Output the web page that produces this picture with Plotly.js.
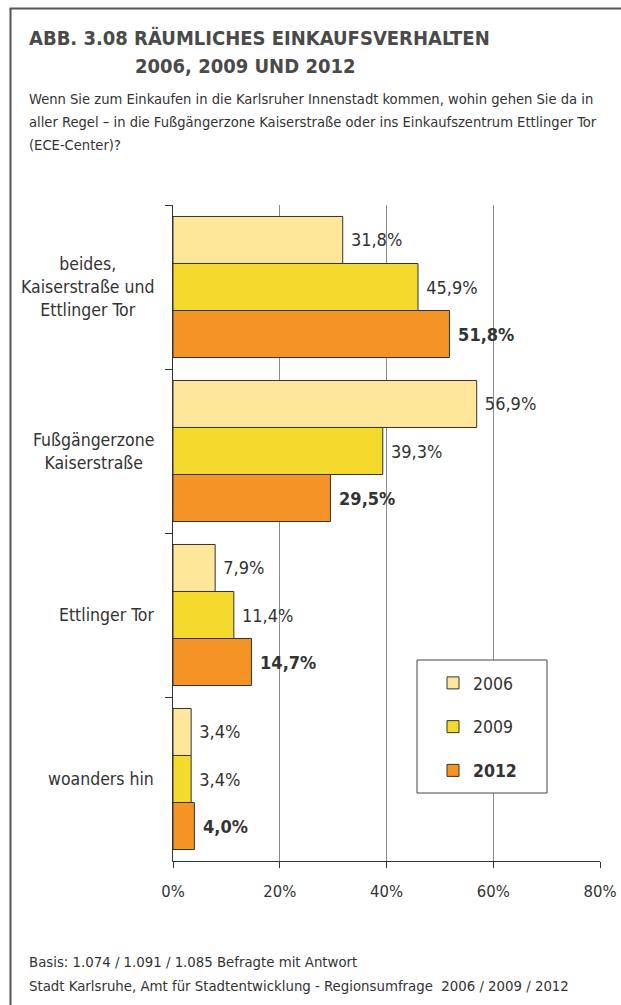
<!DOCTYPE html>
<html>
<head>
<meta charset="utf-8">
<script src="https://cdn.plot.ly/plotly-3.0.1.min.js"></script>
<style>html,body{margin:0;padding:0;background:#fff;}#chart{width:621px;height:1005px;}</style>
</head>
<body>
<div id="chart"></div>
<script>
// ---- data ----
const categories = [
  "beides,<br>Kaiserstraße und<br>Ettlinger Tor",
  "Fußgängerzone<br>Kaiserstraße",
  "Ettlinger Tor",
  "woanders hin"
];
const years = ["2006", "2009", "2012"];
const values2006 = [31.8, 56.9, 7.9, 3.4];
const values2009 = [45.9, 39.3, 11.4, 3.4];
const values2012 = [51.8, 29.5, 14.7, 4.0];
const xTickVals = [0, 20, 40, 60, 80];
const xTickText = ["0%", "20%", "40%", "60%", "80%"];

const FONT = "'Liberation Sans Narrow', 'DejaVu Sans Condensed', 'Arial Narrow', sans-serif";
const TXT = "#333333";
const colors = ["#FEE69A", "#F4DA2C", "#F59424"];
const series = [values2006, values2009, values2012];

const fmt = (v, bold) => {
  const s = "\u00a0" + v.toFixed(1).replace(".", ",") + "%";
  return bold ? "<b>" + s + "</b>" : s;
};

const traces = series.map((vals, i) => ({
  type: "bar",
  orientation: "h",
  name: i === 2 ? "<b>" + years[i] + "</b>" : years[i],
  legendgroup: years[i],
  y: categories,
  x: vals,
  text: vals.map(v => fmt(v, i === 2)),
  textposition: "outside",
  constraintext: "none",
  cliponaxis: false,
  textfont: {family: FONT, size: 18, color: TXT},
  marker: {color: colors[i], line: {color: "#333333", width: 1}},
  hoverinfo: "skip"
}));

// pixel helpers for annotation placement (plot area 173..600 x 205..861)
const L = 173, R = 600, T = 205, B = 861;
const px = x => (x - L) / (R - L);
const py = y => (B - y) / (B - T);

const annotations = [
  {text: "<b>ABB. 3.08 RÄUMLICHES EINKAUFSVERHALTEN</b>", x: px(27), y: py(38), xanchor: "left", yanchor: "middle", font: {size: 20, color: "#4a4a4a"}},
  {text: "<b>2006, 2009 UND 2012</b>", x: px(133), y: py(66), xanchor: "left", yanchor: "middle", font: {size: 20, color: "#4a4a4a"}},
  {text: "Wenn Sie zum Einkaufen in die Karlsruher Innenstadt kommen, wohin gehen Sie da in", x: px(27), y: py(98), xanchor: "left", yanchor: "middle", font: {size: 14.6, color: TXT}},
  {text: "aller Regel – in die Fußgängerzone Kaiserstraße oder ins Einkaufszentrum Ettlinger Tor", x: px(27), y: py(121), xanchor: "left", yanchor: "middle", font: {size: 14.6, color: TXT}},
  {text: "(ECE-Center)?", x: px(27), y: py(144), xanchor: "left", yanchor: "middle", font: {size: 14.6, color: TXT}},
  {text: "Basis: 1.074 / 1.091 / 1.085 Befragte mit Antwort", x: px(27), y: py(961), xanchor: "left", yanchor: "middle", font: {size: 14.8, color: TXT}},
  {text: "Stadt Karlsruhe, Amt für Stadtentwicklung - Regionsumfrage  2006 / 2009 / 2012", x: px(27), y: py(985), xanchor: "left", yanchor: "middle", font: {size: 14.8, color: TXT}}
].map(a => Object.assign({xref: "paper", yref: "paper", showarrow: false, align: "left"}, a, {font: Object.assign({family: FONT}, a.font)}));

categories.forEach(c => annotations.push({
  xref: "paper", yref: "y", x: px(156), y: c, xanchor: "right", yanchor: "middle",
  align: "center", showarrow: false, text: c, font: {family: FONT, size: 17.5, color: TXT}
}));

const shapes = [
  {type: "line", xref: "paper", yref: "paper", x0: px(10.5), x1: px(10.5), y0: py(8.5), y1: py(1010), line: {color: "#555555", width: 2}},
  {type: "line", xref: "paper", yref: "paper", x0: px(9.5), x1: px(630), y0: py(8.5), y1: py(8.5), line: {color: "#555555", width: 2}},
  {type: "rect", xref: "paper", yref: "paper", x0: px(417), x1: px(547), y0: py(793), y1: py(660), line: {color: "#444444", width: 1}, fillcolor: "#ffffff", layer: "above"}
];

const layout = {
  width: 621, height: 1005,
  margin: {l: L, r: 621 - R, t: T, b: 1005 - B, pad: 0},
  paper_bgcolor: "#ffffff", plot_bgcolor: "#ffffff",
  font: {family: FONT, color: TXT},
  barmode: "group", bargap: 0.14, bargroupgap: 0,
  showlegend: true,
  legend: {
    x: px(433), y: py(665), xanchor: "left", yanchor: "top",
    bgcolor: "rgba(0,0,0,0)", borderwidth: 0,
    traceorder: "grouped", tracegroupgap: 18,
    font: {family: FONT, size: 17.5, color: TXT}
  },
  xaxis: {
    range: [0, 80], tickvals: xTickVals, ticktext: xTickText,
    showgrid: true, gridcolor: "#8c8c8c", gridwidth: 1, zeroline: false,
    showline: true, linecolor: "#333333", linewidth: 1,
    ticks: "outside", ticklen: 6, tickcolor: "#333333",
    ticklabelstandoff: 9,
    tickfont: {family: FONT, size: 16.5, color: TXT}, fixedrange: true
  },
  yaxis: {
    type: "category", categoryorder: "array", categoryarray: categories,
    autorange: "reversed", showticklabels: false, showgrid: false, zeroline: false,
    showline: true, linecolor: "#333333", linewidth: 1,
    ticks: "outside", tickson: "boundaries", ticklen: 7, tickcolor: "#333333", fixedrange: true
  },
  annotations: annotations,
  shapes: shapes
};

Plotly.newPlot("chart", traces, layout, {displayModeBar: false, staticPlot: true});
</script>
</body>
</html>
